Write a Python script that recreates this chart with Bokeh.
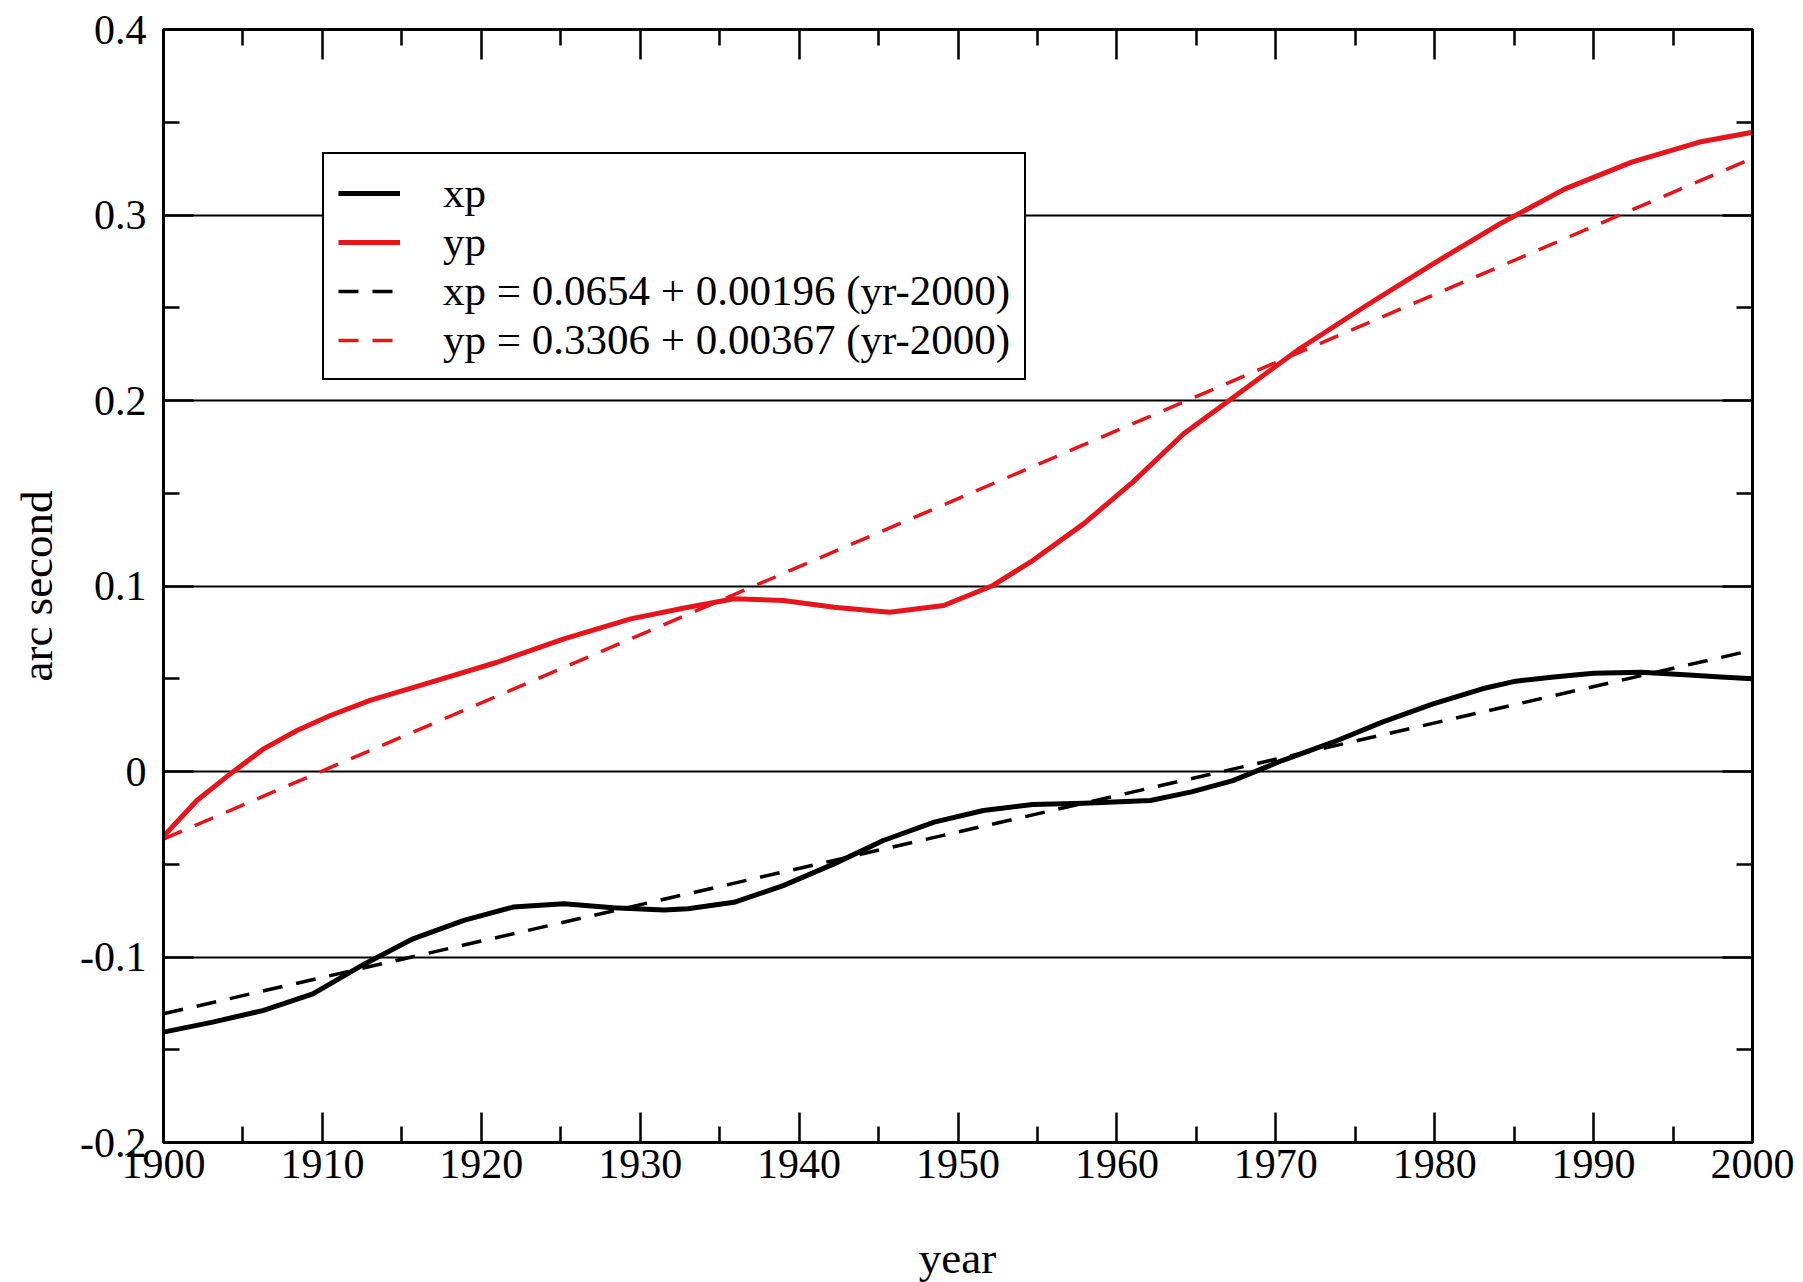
from bokeh.plotting import figure
from bokeh.layouts import column
from bokeh.models import (FixedTicker, CustomJSTickFormatter, LinearAxis, Legend,
                          LegendItem, Range1d, Div)
from bokeh.embed import file_html
from bokeh.resources import INLINE

# ---------------- data ----------------
years_xp = [1900, 1903.1, 1906.3, 1909.4, 1912.6, 1915.7, 1918.9, 1922.0, 1925.2,
            1928.3, 1931.5, 1933.0, 1935.9, 1939.0, 1942.2, 1945.3, 1948.5, 1951.6,
            1954.7, 1957.9, 1962.1, 1964.7, 1967.3, 1970.4, 1973.6, 1976.7, 1979.9,
            1983.0, 1985.1, 1987.5, 1990, 1993, 1996, 1998, 2000]
xp = [-0.1405, -0.1351, -0.1288, -0.1199, -0.1040, -0.0902, -0.0803, -0.0731, -0.0713,
      -0.0735, -0.0746, -0.0740, -0.0705, -0.0615, -0.0498, -0.0372, -0.0273, -0.0210,
      -0.0178, -0.0171, -0.0156, -0.0110, -0.0049, 0.0059, 0.0158, 0.0266, 0.0365,
      0.0446, 0.0487, 0.0510, 0.0530, 0.0535, 0.0520, 0.0510, 0.0500]

years_yp = [1900, 1902.1, 1904.2, 1906.3, 1908.4, 1910.5, 1913.0, 1916.8, 1921.0,
            1925.2, 1929.4, 1932.7, 1935.9, 1939.0, 1942.2, 1945.7, 1949.1, 1952.2,
            1954.7, 1957.9, 1961.0, 1964.2, 1967.3, 1971.5, 1975.7, 1979.9, 1984.1,
            1988.2, 1992.4, 1996.6, 2000]
yp = [-0.035, -0.0156, -0.0013, 0.0122, 0.0221, 0.0302, 0.0383, 0.0481, 0.0589,
      0.0715, 0.0823, 0.0880, 0.0931, 0.0922, 0.0886, 0.0859, 0.0895, 0.1003,
      0.1137, 0.1335, 0.1560, 0.1821, 0.2015, 0.2279, 0.2512, 0.2737, 0.2952,
      0.3141, 0.3285, 0.3392, 0.3446]

# linear fits (end points of the dashed lines, from the legend formulas)
fit_years = [1900, 2000]
xp_fit = [-0.1306, 0.0654]
yp_fit = [-0.0364, 0.3306]

labels = ["xp", "yp",
          "xp = 0.0654 + 0.00196 (yr-2000)",
          "yp = 0.3306 + 0.00367 (yr-2000)"]

x_ticks = [1900, 1910, 1920, 1930, 1940, 1950, 1960, 1970, 1980, 1990, 2000]
x_minor = [1905, 1915, 1925, 1935, 1945, 1955, 1965, 1975, 1985, 1995]
y_ticks = [-0.2, -0.1, 0.0, 0.1, 0.2, 0.3, 0.4]
y_minor = [-0.15, -0.05, 0.05, 0.15, 0.25, 0.35]

x_label = "year"
y_label = "arc second"

# ---------------- styling ----------------
FONT = "Liberation Serif"
RED = "#e8141c"

FIG_W, FIG_H = 1803, 1234
B_LEFT, B_RIGHT, B_TOP = 163, 51, 29
B_BOTTOM = FIG_H - 1142

p = figure(width=FIG_W, height=FIG_H, output_backend="svg", toolbar_location=None,
           x_range=Range1d(1900, 2000), y_range=Range1d(-0.2, 0.4),
           min_border_left=B_LEFT, min_border_right=B_RIGHT, min_border_top=B_TOP,
           min_border_bottom=B_BOTTOM, background_fill_color="white",
           border_fill_color="white")
p.outline_line_color = "black"
p.outline_line_width = 3

xt = FixedTicker(ticks=x_ticks, minor_ticks=x_minor)
yt = FixedTicker(ticks=y_ticks, minor_ticks=y_minor)
yfmt = CustomJSTickFormatter(code="return Math.abs(tick) < 1e-9 ? '0' : tick.toFixed(1);")
xfmt = CustomJSTickFormatter(code="return tick.toFixed(0);")
blank = CustomJSTickFormatter(code="return '';")


def style_axis(ax, labels_on):
    ax.axis_line_width = 3
    ax.axis_line_color = "black"
    ax.major_tick_in = 30
    ax.major_tick_out = 0
    ax.minor_tick_in = 16
    ax.minor_tick_out = 0
    ax.major_tick_line_width = 2.5
    ax.minor_tick_line_width = 2.5
    ax.major_tick_line_color = "black"
    ax.minor_tick_line_color = "black"
    if labels_on:
        ax.major_label_text_font = FONT
        ax.major_label_text_font_size = "42px"
        ax.major_label_text_color = "black"
        ax.axis_label_text_font = FONT
        ax.axis_label_text_font_size = "45px"
        ax.axis_label_text_font_style = "normal"
        ax.axis_label_text_color = "black"
    else:
        ax.major_label_text_font_size = "0px"
        ax.major_label_standoff = 0


xa = p.xaxis[0]
xa.ticker = xt
xa.formatter = xfmt
style_axis(xa, True)
xa.major_label_standoff = 7

ya = p.yaxis[0]
ya.ticker = yt
ya.formatter = yfmt
ya.axis_label = y_label
style_axis(ya, True)
ya.major_label_standoff = 17
ya.axis_label_standoff = 15

top = LinearAxis(ticker=xt, formatter=blank)
style_axis(top, False)
p.add_layout(top, "above")
right = LinearAxis(ticker=yt, formatter=blank)
style_axis(right, False)
p.add_layout(right, "right")

p.xgrid.visible = False
p.ygrid.ticker = FixedTicker(ticks=y_ticks)
p.ygrid.grid_line_color = "black"
p.ygrid.grid_line_width = 2
p.ygrid.grid_line_alpha = 1.0

# ---------------- lines ----------------
r_xp = p.line(years_xp, xp, line_color="black", line_width=5, line_join="round")
r_yp = p.line(years_yp, yp, line_color=RED, line_width=5, line_join="round")
r_xf = p.line(fit_years, xp_fit, line_color="black", line_width=3.5, line_dash="20 14")
r_yf = p.line(fit_years, yp_fit, line_color=RED, line_width=3.5, line_dash="20 14")

legend = Legend(items=[LegendItem(label=labels[0], renderers=[r_xp]),
                       LegendItem(label=labels[1], renderers=[r_yp]),
                       LegendItem(label=labels[2], renderers=[r_xf]),
                       LegendItem(label=labels[3], renderers=[r_yf])],
                location=(159, 762))
legend.label_text_font = FONT
legend.label_text_font_size = "43px"
legend.label_text_color = "black"
legend.glyph_width = 62
legend.glyph_height = 40
legend.label_height = 44
legend.label_standoff = 43
legend.spacing = 0
legend.padding = 14
legend.margin = 0
legend.border_line_color = "black"
legend.border_line_alpha = 1.0
legend.border_line_width = 2
legend.background_fill_color = "white"
legend.background_fill_alpha = 1.0
p.add_layout(legend, "center")

# x-axis title, sitting well below the tick labels as in the original
frame_w = FIG_W - B_LEFT - B_RIGHT
xlabel_div = Div(text=x_label, width=frame_w, height=1282 - FIG_H,
                 margin=(0, 0, 0, B_LEFT),
                 styles={"font-family": FONT, "font-size": "45px", "color": "black",
                         "text-align": "center", "line-height": "48px"})

layout = column(p, xlabel_div, spacing=0)

open("out.html", "w").write(file_html(layout, INLINE))
